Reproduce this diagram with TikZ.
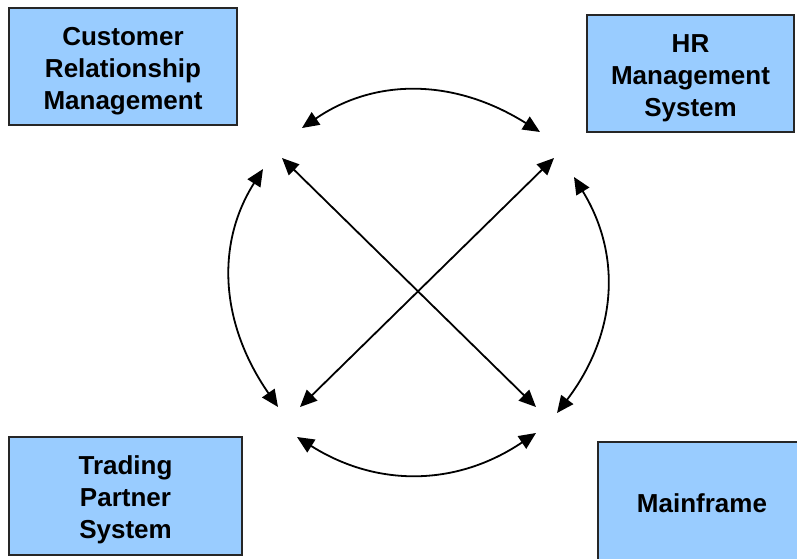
\documentclass[tikz,border=0pt]{standalone}
\usepackage{fontspec}
\setmainfont{Liberation Sans}
\usetikzlibrary{arrows.meta}
\definecolor{boxblue}{HTML}{99CCFF}
\newcommand\tstrut{\rule{0pt}{27pt}}
\begin{document}
\begin{tikzpicture}[x=1pt,y=-1pt,
  sysbox/.style={draw=black!85,line width=1.5pt,fill=boxblue,inner sep=0pt,
    align=center,font=\bfseries\fontsize{26}{32}\selectfont},
  link/.style={line width=1.8pt,{Triangle[length=17pt,width=15pt]}-{Triangle[length=17pt,width=15pt]}}]
\useasboundingbox (0,0) rectangle (797,558);
\node[sysbox,minimum width=228pt,minimum height=117pt] (crm) at (123,66.5) {\tstrut Customer\\Relationship\\Management};
\node[sysbox,minimum width=207pt,minimum height=117pt] (hr) at (690.5,73.5) {\tstrut HR\\Management\\System};
\node[sysbox,minimum width=233pt,minimum height=118pt] (tps) at (125.5,496) {\tstrut Trading\\Partner\\System};
\node[sysbox,minimum width=208pt,minimum height=122pt] (mf) at (702,503) {Mainframe};
% arrow ends
\coordinate (ta) at (302,128);
\coordinate (tb) at (540,132);
\coordinate (la) at (263,169);
\coordinate (lb) at (278,407);
\coordinate (ra) at (574,177);
\coordinate (rb) at (557,413);
\coordinate (ba) at (297,437);
\coordinate (bb) at (536,433);
\coordinate (d1a) at (282,158);
\coordinate (d1b) at (536,407);
\coordinate (d2a) at (554,158);
\coordinate (d2b) at (300,407);
\draw[link] (ta) .. controls (376,77.3) and (455.3,78.7) .. (tb);
\draw[link] (la) .. controls (215.3,244.3) and (220.3,323.7) .. (lb);
\draw[link] (ra) .. controls (622.3,255.7) and (616.7,334.3) .. (rb);
\draw[link] (ba) .. controls (377.3,487.7) and (457,486.3) .. (bb);
\draw[link] (d1a) -- (d1b);
\draw[link] (d2a) -- (d2b);
\end{tikzpicture}
\end{document}
